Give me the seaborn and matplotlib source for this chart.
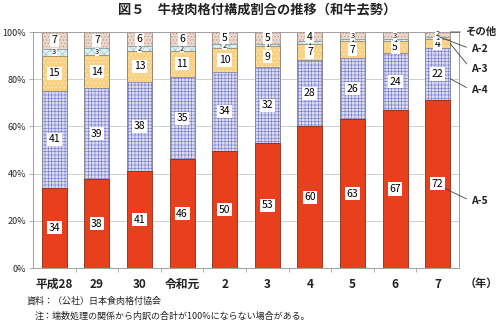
import numpy as np
import pandas as pd
import matplotlib
matplotlib.use("Agg")
import matplotlib.pyplot as plt
import seaborn as sns
from matplotlib.ticker import FixedLocator

# ---- data ----
years = ['平成28', '29', '30', '令和元', '2', '3', '4', '5', '6', '7']
a5 = [34, 38, 41, 46, 50, 53, 60, 63, 67, 72]
a4 = [41, 39, 38, 35, 34, 32, 28, 26, 24, 22]
a3 = [15, 14, 13, 11, 10, 9, 7, 7, 5, 4]
a2 = [3, 3, 2, 2, 2, 1, 1, 1, 1, 1]
other = [7, 7, 6, 6, 5, 5, 4, 3, 3, 2]
series_names = ['A-5', 'A-4', 'A-3', 'A-2', 'その他']
yticks = [0, 20, 40, 60, 80, 100]
title = '図５　牛枝肉格付構成割合の推移（和牛去勢）'
source = '資料：（公社）日本食肉格付協会'
note = '注：端数処理の関係から内訳の合計が100%にならない場合がある。'

sns.set_theme(style='white')
plt.rcParams['font.family'] = ['Noto Sans CJK JP', 'DejaVu Sans']
plt.rcParams['hatch.linewidth'] = 0.4

W, H = 500, 323
fig = plt.figure(figsize=(W / 100, H / 100), dpi=100)
ax = fig.add_axes([33 / W, 1 - 268 / H, (459 - 33) / W, (268 - 32) / H])

vals = np.array([a5, a4, a3, a2, other], dtype=float)
share = vals / vals.sum(axis=0) * 100
cum = share.cumsum(axis=0)
bottoms = cum - share

# face, hatch, hatch colour, outline colour
styles = [
    ('#E8401C', None, '#E8401C', '#9A2E16'),
    ('#DADBF3', '+++++', '#7076C8', '#8A8A9A'),
    ('#F9D184', '....', '#FFF1CC', '#9A8A70'),
    ('#DDF1F4', 'xxxx', '#8CC3D2', '#8A9A9A'),
    ('#EBD6C9', '.....', '#B8968A', '#9A8A80'),
]
bw = 0.59

for i in reversed(range(5)):
    face, hatch, hc, ec = styles[i]
    df = pd.DataFrame({'year': years, 'v': cum[i]})
    kw = dict(edgecolor=hc, linewidth=0)
    if hatch:
        kw['hatch'] = hatch
    sns.barplot(data=df, x='year', y='v', order=years, color=face,
                saturation=1, width=bw, errorbar=None, ax=ax, **kw)

for i in reversed(range(5)):
    face, hatch, hc, ec = styles[i]
    df = pd.DataFrame({'year': years, 'v': cum[i]})
    sns.barplot(data=df, x='year', y='v', order=years, color=face,
                saturation=1, width=bw, errorbar=None, ax=ax,
                facecolor='none', edgecolor=ec, linewidth=0.6)

# value labels
for i in range(5):
    for j in range(len(years)):
        v = int(vals[i, j])
        y = bottoms[i, j] + share[i, j] / 2
        small = v <= 3
        ax.text(j, y, str(v), ha='center', va='center',
                fontsize=5.5 if small else 7.5, color='black', zorder=5,
                bbox=dict(boxstyle='square,pad=0.02' if small else 'square,pad=0.15',
                          fc='white', ec='none'))

ax.set_xlim(-0.5, len(years) - 0.5)
ax.set_ylim(0, 100)
ax.set_xlabel('')
ax.set_ylabel('')
ax.yaxis.set_major_locator(FixedLocator(yticks))
ax.set_yticklabels([f'{t}%' for t in yticks], fontsize=6.5)
ax.yaxis.grid(True, color='#C8C8C8', lw=0.6)
ax.set_axisbelow(True)
ax.tick_params(axis='y', left=True, length=3, width=0.6, color='#A0A0A0', pad=2)
ax.set_xticks(range(len(years)))
ax.set_xticklabels(years, fontsize=8.5, fontweight='bold', color='#222222')
ax.tick_params(axis='x', which='major', length=0, pad=7)
ax.xaxis.set_minor_locator(FixedLocator(np.arange(0.5, len(years) - 1, 1)))
ax.tick_params(axis='x', which='minor', bottom=True, length=3, width=0.6, color='#A0A0A0')
for s in ax.spines.values():
    s.set_color('#A0A0A0')
    s.set_linewidth(0.7)

# right side leader labels
def fp(x, y):
    return (x, H - y)

last = len(years) - 1
right_edge = last + bw / 2
ann = [
    ('その他', (right_edge, 100), fp(465, 32)),
    ('A-2', (last + 0.02, cum[3, last] - share[3, last] / 2 + 0.5), fp(471, 49)),
    ('A-3', (right_edge, bottoms[2, last] + share[2, last] / 2), fp(471, 69)),
    ('A-4', (right_edge, bottoms[1, last] + share[1, last] / 2 - 2), fp(471, 90)),
    ('A-5', (last + 0.17, bottoms[0, last] + share[0, last] / 2 - 2), fp(471, 201)),
]
for name, xy, xyt in ann:
    ax.annotate(name, xy=xy, xycoords='data', xytext=xyt, textcoords='figure pixels',
                ha='left', va='center', fontsize=7.5, fontweight='bold', color='#222222',
                annotation_clip=False, zorder=6,
                arrowprops=dict(arrowstyle='-', color='#404040', lw=0.6,
                                shrinkA=1, shrinkB=0, relpos=(0, 0.5)))

fig.text(257 / W, 1 - 10 / H, title, ha='center', va='center', fontsize=9.5,
         fontweight='bold', color='#222222')
fig.text(498 / W, 1 - 283 / H, '（年）', ha='right', va='center', fontsize=8,
         fontweight='bold', color='#222222')
fig.text(27 / W, 1 - 301 / H, source, ha='left', va='center', fontsize=6.5, color='#222222')
fig.text(35 / W, 1 - 316 / H, note, ha='left', va='center', fontsize=6.5, color='#222222')

fig.savefig('out.png', dpi=100)
